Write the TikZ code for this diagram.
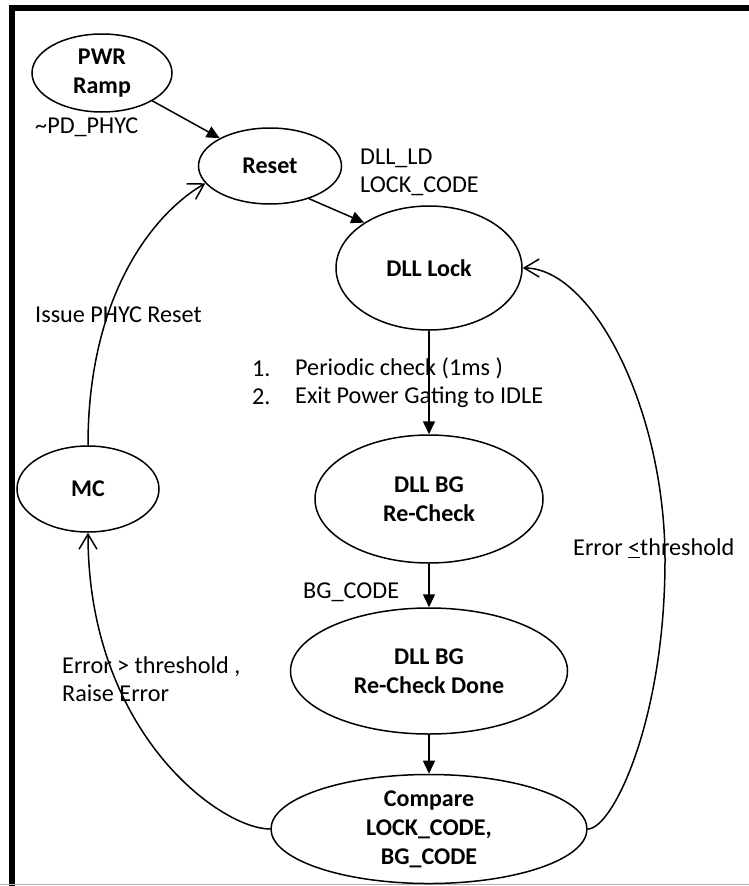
\documentclass[tikz,border=0pt]{standalone}
\usepackage{fontspec}
\setmainfont{Carlito}
\usetikzlibrary{shapes.geometric,arrows.meta}
\newcommand\stfont{\fontsize{24}{29}\selectfont\bfseries}
\newcommand\lbfont{\fontsize{24.2}{28}\selectfont}
\begin{document}
\begin{tikzpicture}[x=1pt,y=-1pt,
  state/.style={draw, ellipse, line width=1.5pt, inner sep=0pt, align=center, font=\stfont},
  lbl/.style={inner sep=0pt, align=left, font=\lbfont},
  solid arrow/.style={line width=1.5pt, -{Triangle[length=13pt,width=12pt]}},
  open arrow/.style={line width=1.5pt, -{Straight Barb[length=15pt,width=18pt]}}]
\useasboundingbox (0,0) rectangle (749,886);

% frame
\fill (9,5) rectangle (749,11);
\fill (9,5) rectangle (15,886);
\draw[gray!60, line width=1.5pt] (0,884.5) -- (749,884.5);

% states
\node[state, minimum width=140pt, minimum height=78pt] (pwr) at (102,73) {PWR\\Ramp};
\node[state, minimum width=143pt, minimum height=76pt] (reset) at (270,166) {Reset};
\node[state, minimum width=186pt, minimum height=124pt] (lock) at (429,268) {DLL Lock};
\node[state, minimum width=228pt, minimum height=128pt] (recheck) at (429,499) {DLL BG\\Re-Check};
\node[state, minimum width=277pt, minimum height=126pt] (done) at (429,671) {DLL BG\\Re-Check Done};
\node[state, minimum width=316pt, minimum height=106pt] (cmp) at (429,829) {Compare\\LOCK\_CODE,\\BG\_CODE};
\node[state, minimum width=142pt, minimum height=86pt] (mc) at (88,489) {MC};

% labels
\node[lbl, anchor=west] (l1) at (35,127) {\textasciitilde PD\_PHYC};
\node[lbl, anchor=west] (l2) at (360,172) {DLL\_LD\\LOCK\_CODE};
\node[lbl, anchor=west] (l3) at (35,315) {Issue PHYC Reset};
\node[lbl, anchor=west] (l4n) at (252,383) {1.\\2.};
\node[lbl, anchor=west] (l4) at (295,383) {Periodic check (1ms )\\Exit Power Gating to IDLE};
\node[lbl, anchor=west] (l5) at (573,548) {Error \underline{<}threshold};
\node[lbl, anchor=west] (l6) at (303,592) {BG\_CODE};
\node[lbl, anchor=west] (l7) at (62,679) {Error > threshold ,\\Raise Error};

% transitions
\draw[solid arrow] (pwr) -- (reset);
\draw[solid arrow] (reset.-40) -- (lock.145);
\draw[solid arrow] (lock) -- (recheck);
\draw[solid arrow] (recheck) -- (done);
\draw[solid arrow] (done) -- (cmp);

\draw[open arrow] (cmp.west) .. controls +(-50,0) and +(0,200) .. (mc.south);
\coordinate (rturn) at (665,560);
\draw[open arrow] (cmp.east) .. controls +(25,0) and +(0,160) .. (rturn)
  .. controls +(0,-150) and +(70,0) .. (lock.east);
\draw[open arrow] (mc.north) .. controls +(0,-150) and +(-52,30) .. (reset.195);
\end{tikzpicture}
\end{document}
